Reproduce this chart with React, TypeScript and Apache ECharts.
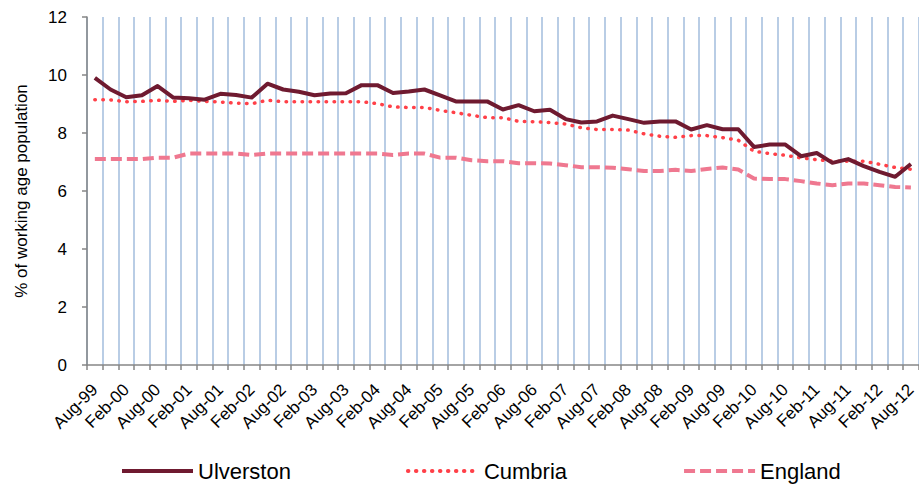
import React, { useEffect, useRef } from "react";
import * as echarts from "echarts";

const monthsOrder = ["Aug", "Nov", "Feb", "May"];

// Quarterly categories Aug-99 .. Aug-12
const categories: string[] = [];
{
  const yy = (n: number) => String(n % 100).padStart(2, "0");
  let y = 1999;
  let m = 0; // 0 Aug,1 Nov,2 Feb,3 May
  while (categories.length < 53) {
    categories.push(monthsOrder[m] + "-" + yy(y));
    m++;
    if (m === 2) y++;
    if (m === 4) m = 0;
  }
}

const ulverston = [
  9.9, 9.5, 9.23, 9.3, 9.62, 9.22, 9.2, 9.15, 9.35, 9.31, 9.22, 9.7, 9.5,
  9.42, 9.3, 9.36, 9.37, 9.65, 9.65, 9.38, 9.43, 9.5, 9.3, 9.09, 9.09, 9.09,
  8.81, 8.96, 8.75, 8.8, 8.48, 8.36, 8.4, 8.6, 8.48, 8.35, 8.4, 8.4, 8.12,
  8.27, 8.13, 8.13, 7.52, 7.6, 7.6, 7.2, 7.31, 6.97, 7.1, 6.86, 6.66, 6.49,
  6.93,
];

const cumbria = [
  9.15, 9.14, 9.08, 9.09, 9.13, 9.09, 9.13, 9.09, 9.07, 9.03, 9.01, 9.13, 9.08,
  9.08, 9.08, 9.08, 9.08, 9.08, 9.01, 8.9, 8.88, 8.88, 8.78, 8.7, 8.61, 8.53,
  8.53, 8.4, 8.39, 8.36, 8.31, 8.18, 8.12, 8.12, 8.1, 7.97, 7.89, 7.85, 7.91,
  7.91, 7.84, 7.75, 7.37, 7.29, 7.23, 7.14, 7.08, 7.03, 7.03, 7.03, 6.92, 6.81,
  6.75,
];

const england = [
  7.1, 7.1, 7.1, 7.1, 7.15, 7.15, 7.29, 7.29, 7.29, 7.29, 7.24, 7.29, 7.29,
  7.29, 7.29, 7.29, 7.29, 7.29, 7.29, 7.24, 7.29, 7.29, 7.15, 7.15, 7.06, 7.03,
  7.03, 6.96, 6.96, 6.95, 6.89, 6.82, 6.82, 6.8, 6.75, 6.69, 6.69, 6.73, 6.69,
  6.76, 6.81, 6.74, 6.43, 6.41, 6.41, 6.34, 6.26, 6.2, 6.26, 6.26, 6.2, 6.14,
  6.12,
];

export default function App() {
  const ref = useRef<HTMLDivElement>(null);
  useEffect(() => {
    if (!ref.current) return;
    const chart = echarts.init(ref.current, null, { renderer: "svg" });
    const font = "'Liberation Sans', Arial, sans-serif";
    chart.setOption({
      animation: false,
      textStyle: { fontFamily: font },
      grid: { left: 87, top: 17, width: 835, height: 348, containLabel: false },
      legend: {
        top: 460,
        left: 120,
        padding: 0,
        itemWidth: 71,
        itemHeight: 14,
        itemGap: 115,
        itemStyle: { opacity: 0 },
        lineStyle: { width: 4 },
        textStyle: { fontSize: 22, color: "#000", fontFamily: font },
        data: ["Ulverston", "Cumbria", "England"],
      },
      xAxis: {
        type: "category",
        data: categories,
        boundaryGap: true,
        axisLine: { lineStyle: { color: "#868686", width: 1.5 } },
        axisTick: {
          show: true,
          interval: 0,
          length: 5,
          lineStyle: { color: "#868686", width: 1.5 },
        },
        splitLine: {
          show: true,
          interval: 0,
          lineStyle: { color: "#b9cde5", width: 2 },
        },
        axisLabel: {
          interval: 1,
          rotate: 45,
          margin: 22,
          fontSize: 17,
          color: "#000",
          fontFamily: font,
        },
      },
      yAxis: {
        type: "value",
        min: 0,
        max: 12,
        interval: 2,
        name: "% of working age population",
        nameLocation: "middle",
        nameGap: 57,
        nameTextStyle: { fontSize: 17, color: "#000", fontFamily: font },
        axisLine: { show: true, lineStyle: { color: "#868686", width: 1.5 } },
        axisTick: { show: true, length: 5, lineStyle: { color: "#868686", width: 1.5 } },
        splitLine: { show: false },
        axisLabel: {
          margin: 20,
          fontSize: 17,
          color: "#000",
          fontFamily: font,
        },
      },
      series: [
        {
          name: "Ulverston",
          type: "line",
          data: ulverston,
          symbol: "none",
          itemStyle: { color: "#6f1a30" },
          lineStyle: { color: "#6f1a30", width: 4, join: "round" },
          z: 3,
        },
        {
          name: "Cumbria",
          type: "line",
          data: cumbria,
          symbol: "none",
          itemStyle: { color: "#ff4048" },
          lineStyle: { color: "#ff4048", width: 3.5, type: [0.5, 7.5], cap: "round" },
          z: 2,
        },
        {
          name: "England",
          type: "line",
          data: england,
          symbol: "none",
          itemStyle: { color: "#ef7890" },
          lineStyle: { color: "#ef7890", width: 4, type: [11, 5] },
          z: 1,
        },
      ],
    });
    return () => chart.dispose();
  }, []);
  return (
    <div
      ref={ref}
      style={{ position: "absolute", left: 0, top: 0, width: 919, height: 487, overflow: "hidden" }}
    />
  );
}
